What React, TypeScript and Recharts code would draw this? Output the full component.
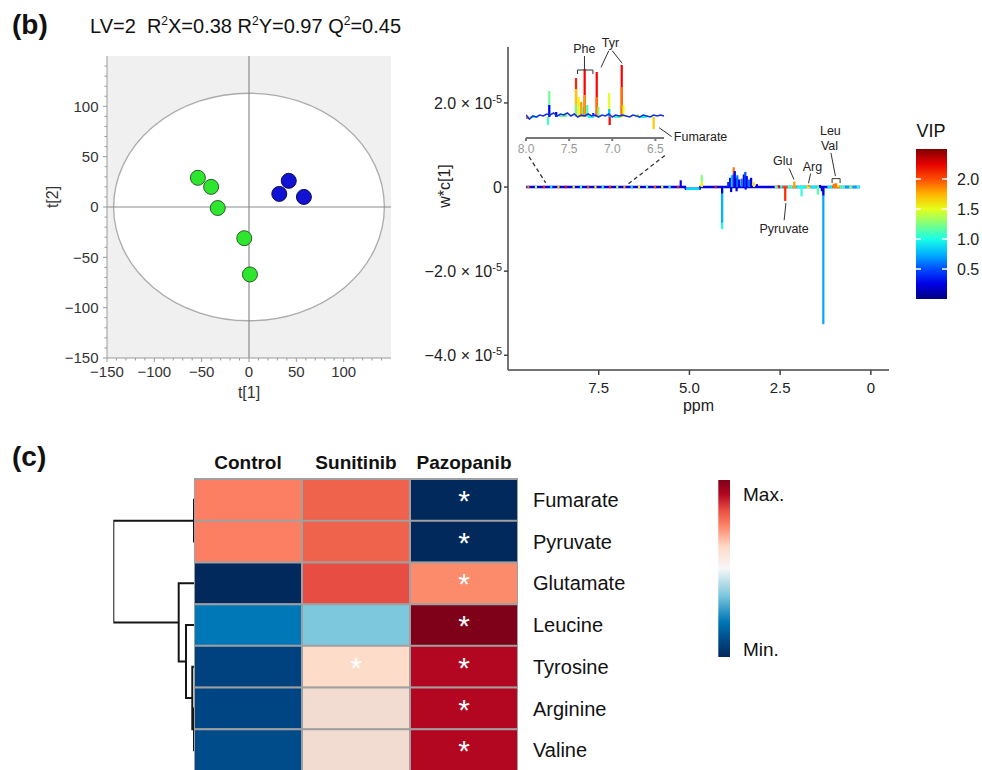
import React from 'react';
import {
  ScatterChart, Scatter, ComposedChart, Line, BarChart, Bar, Cell, LabelList,
  XAxis, YAxis, ReferenceArea, ReferenceLine, ReferenceDot,
} from 'recharts';

const FONT = '"Liberation Sans", Arial, Helvetica, sans-serif';
const MINUS = '\u2212';
const signed = (s: string) => s.replace('-', MINUS);

// ---------------- (b) PLS-DA score plot ----------------
const scoresGreen = [
  { t1: -54, t2: 29 }, { t1: -40, t2: 20 }, { t1: -33, t2: -1 }, { t1: -5, t2: -31 }, { t1: 1, t2: -67 },
];
const scoresBlue = [
  { t1: 32, t2: 13 }, { t1: 42, t2: 26 }, { t1: 58, t2: 10 },
];
const scoreDomain = [-150, 150];
const scoreTicks = [-150, -140, -130, -120, -110, -100, -90, -80, -70, -60, -50, -40, -30, -20, -10, 0,
  10, 20, 30, 40, 50, 60, 70, 80, 90, 100, 110, 120, 130, 140];
const scoreMajorTicks = [-150, -100, -50, 0, 50, 100];
const hotellingT1 = 143;
const hotellingT2 = 113;

// ---------------- (b) loading plot, w*c[1] in units of 1e-5 ----------------
const ppmTicks = [7.5, 5, 2.5, 0];
const loadingTicks = [-4, -2, 0, 2];
const VIP_MAX = 2.5;
const vipTicks = [0.5, 1, 1.5, 2];

const mainBaseline = [
  { ppm: 9.5, y: 0 }, { ppm: 5.12, y: 0 }, { ppm: 5.1, y: -0.04 }, { ppm: 4.72, y: -0.04 },
  { ppm: 4.7, y: 0 }, { ppm: 0.3, y: 0 },
];
// [fromPpm, toPpm, y, VIP]
const mainBaseSegs: [number, number, number, number][] = [
  [9.47, 9.41, 0, 1.9], [9.26, 9.2, 0, 1.4], [9.04, 8.98, 0, 2.1], [8.84, 8.78, 0, 0.9],
  [8.64, 8.58, 0, 1.7], [8.44, 8.38, 0, 2.2], [8.22, 8.16, 0, 1.5], [8.02, 7.96, 0, 1.1],
  [7.82, 7.76, 0, 2.0], [7.62, 7.56, 0, 1.6], [7.42, 7.36, 0, 1.0], [7.22, 7.16, 0, 2.1],
  [7.02, 6.96, 0, 1.4], [6.82, 6.76, 0, 1.8], [6.62, 6.56, 0, 0.9], [6.42, 6.36, 0, 1.6],
  [6.2, 6.14, 0, 1.2], [5.98, 5.92, 0, 2.0], [5.78, 5.72, 0, 1.5], [5.58, 5.52, 0, 1.0],
  [5.34, 5.28, 0, 2.1],
  [5.1, 4.72, -0.04, 0.85], [4.3, 4.25, 0, 2.1],
  [2.65, 2.55, 0, 1.2], [2.55, 2.5, 0, 2.2], [2.5, 2.43, 0, 1.0], [2.43, 2.3, 0, 2.0],
  [2.3, 2.15, 0, 1.1], [2.15, 2.05, 0, 1.8], [2.05, 1.78, 0, 0.95], [1.78, 1.66, 0, 1.5],
  [1.66, 1.5, 0, 0.9], [1.5, 1.42, 0, 1.2], [1.2, 1.06, 0, 0.9], [1.06, 0.85, 0, 1.85],
  [0.85, 0.7, 0, 1.05], [0.7, 0.6, 0, 0.7], [0.6, 0.5, 0, 1.2], [0.5, 0.4, 0, 0.7], [0.4, 0.3, 0, 1.0],
];
// [ppm, w*c (1e-5), VIP]
const mainPeaks: [number, number, number][] = [
  [5.24, 0.16, 0.3],
  [4.66, 0.29, 1.25], [4.66, 0.12, 1.6],
  [4.1, -1.0, 1.0], [4.1, -0.85, 0.75], [4.1, -0.15, 0.2],
  [3.93, 0.12, 0.4], [3.88, 0.22, 0.3], [3.83, 0.28, 0.8],
  [3.78, 0.47, 1.9], [3.78, 0.3, 0.5], [3.75, 0.38, 0.3], [3.72, 0.22, 0.2],
  [3.68, 0.28, 0.6], [3.63, 0.18, 0.3], [3.56, 0.2, 0.6], [3.5, 0.3, 0.3],
  [3.46, 0.36, 0.5], [3.42, 0.26, 0.25], [3.36, 0.18, 0.6], [3.3, 0.22, 0.25],
  [3.22, 0.12, 1.6], [3.14, 0.07, 0.3],
  [3.85, -0.12, 0.2], [3.7, -0.1, 0.2], [3.45, -0.06, 0.3],
  [2.54, 0.04, 2.2], [2.36, -0.33, 2.1], [2.11, 0.13, 1.8], [1.91, -0.22, 1.05],
  [1.71, 0.05, 1.8], [1.46, -0.18, 1.15], [1.4, 0.05, 0.3],
  [1.31, -3.26, 0.72], [1.31, -0.2, 0.25], [1.35, -0.1, 0.2],
  [1.02, 0.08, 1.9], [0.96, 0.09, 1.9], [0.9, 0.05, 1.6],
];
const mainLabels = [
  { text: 'Glu', ppm: 2.43, val: 0.63 },
  { text: 'Arg', ppm: 1.61, val: 0.49 },
  { text: 'Leu', ppm: 1.115, val: 1.34 },
  { text: 'Val', ppm: 1.14, val: 0.98 },
  { text: 'Pyruvate', ppm: 2.39, val: -0.99 },
];
const fumarateLabel = { text: 'Fumarate', ppm: 5.43, val: 1.19 };
// [ppm1, val1, ppm2, val2]
const mainLeaders: [number, number, number, number][] = [
  [2.25, 0.44, 2.12, 0.18],
  [1.66, 0.32, 1.72, 0.09],
  [1.1, 0.81, 0.976, 0.26],
  [2.34, -0.38, 2.39, -0.79],
  [5.835, 1.41, 5.49, 1.2],
  [1.068, 0.2, 0.847, 0.2], [1.068, 0.2, 1.068, 0.095], [0.847, 0.2, 0.847, 0.095],
];
const zoomGuides: [number, number, number, number][] = [
  [9.42, 0.72, 8.96, 0.1],
  [5.678, 0.75, 6.7, 0.064],
];

// ---------------- inset 8.0 - 6.5 ppm (relative units) ----------------
const insetTicks = [8, 7.5, 7, 6.5];
const insetBaseline = [
  { ppm: 8.0, v: 2 }, { ppm: 7.96, v: -2 }, { ppm: 7.92, v: 1 }, { ppm: 7.88, v: 0 }, { ppm: 7.84, v: 2 },
  { ppm: 7.8, v: 1 }, { ppm: 7.76, v: 3 }, { ppm: 7.72, v: 2 }, { ppm: 7.68, v: 4 }, { ppm: 7.64, v: 1 },
  { ppm: 7.6, v: 3 }, { ppm: 7.56, v: 2 }, { ppm: 7.52, v: 4 }, { ppm: 7.48, v: 1 }, { ppm: 7.44, v: 3 },
  { ppm: 7.4, v: 0 }, { ppm: 7.36, v: 2 }, { ppm: 7.32, v: 1 }, { ppm: 7.28, v: 3 }, { ppm: 7.24, v: 1 },
  { ppm: 7.2, v: 2 }, { ppm: 7.16, v: 0 }, { ppm: 7.12, v: 2 }, { ppm: 7.08, v: 1 }, { ppm: 7.04, v: 3 },
  { ppm: 7.0, v: 0 }, { ppm: 6.96, v: 2 }, { ppm: 6.92, v: 1 }, { ppm: 6.88, v: 2 }, { ppm: 6.84, v: 1 },
  { ppm: 6.8, v: 0 }, { ppm: 6.76, v: 2 }, { ppm: 6.72, v: 1 }, { ppm: 6.68, v: 0 }, { ppm: 6.64, v: 2 },
  { ppm: 6.6, v: 1 }, { ppm: 6.56, v: 0 }, { ppm: 6.52, v: 2 }, { ppm: 6.48, v: 1 }, { ppm: 6.44, v: 2 },
  { ppm: 6.4, v: 1 },
];
const insetBaseSegs: [number, number, number, number][] = [
  [8.0, 7.97, -1, 1.9], [7.95, 7.86, 0, 1.1], [7.62, 7.52, 1, 1.2], [7.28, 7.21, 0, 1.0],
  [6.98, 6.9, 0, 1.1], [6.7, 6.6, 0, 1.0],
];
const insetPeaks: [number, number, number][] = [
  [7.73, 26, 1.2], [7.73, 12, 0.3], [7.745, -8, 1.1],
  [7.42, 39, 2.1], [7.42, 28, 1.7], [7.42, 12, 1.2],
  [7.39, 20, 1.6], [7.36, 15, 1.8], [7.34, 10, 1.2],
  [7.32, 48, 2.2], [7.32, 22, 1.8], [7.29, 12, 1.1],
  [7.18, 45, 2.2], [7.18, 20, 1.9], [7.16, 10, 1.3],
  [7.035, 24, 1.5], [7.035, 8, 0.8], [7.03, -8, 2.2],
  [6.89, 52, 2.2], [6.89, 30, 1.9], [6.87, 12, 1.5],
  [6.52, -12, 1.7],
  [7.65, 5, 0.3], [7.55, 4, 1.2], [7.22, 4, 0.4], [6.7, 3, 1.4],
];
const insetLabels = [
  { text: 'Phe', ppm: 7.323, val: 68.3 },
  { text: 'Tyr', ppm: 7.02, val: 74.2 },
];
const insetLeaders: [number, number, number, number][] = [
  [7.322, 61, 7.322, 47], [7.403, 47, 7.224, 47], [7.403, 47, 7.403, 43], [7.224, 47, 7.224, 43],
  [7.04, 66.3, 7.13, 49.7], [7.0, 66.3, 6.885, 53.7],
];

// ---------------- (c) heatmap ----------------
const metabolites = ['Fumarate', 'Pyruvate', 'Glutamate', 'Leucine', 'Tyrosine', 'Arginine', 'Valine'];
const groups = ['Control', 'Sunitinib', 'Pazopanib'];
const controlLevel = [0.75, 0.75, 0.0, 0.2, 0.05, 0.07, 0.1];
const sunitinibLevel = [0.8, 0.8, 0.83, 0.35, 0.62, 0.58, 0.58];
const pazopanibLevel = [0.0, 0.0, 0.72, 1.0, 0.92, 0.92, 0.92];
const controlSig = [false, false, false, false, false, false, false];
const sunitinibSig = [false, false, false, false, true, false, false];
const pazopanibSig = [true, true, true, true, true, true, true];
// dendrogram merges: leaves 0..6, merged nodes 7..12
const dendroMerges = [
  { a: 0, b: 1, height: 0.3 },
  { a: 5, b: 6, height: 0.3 },
  { a: 4, b: 8, height: 2.0 },
  { a: 3, b: 9, height: 8.3 },
  { a: 2, b: 10, height: 15.6 },
  { a: 7, b: 11, height: 81 },
];

// ---------------- colour helpers ----------------
const clamp01 = (v: number) => Math.max(0, Math.min(1, v));
const toHex = (v: number) => Math.round(clamp01(v) * 255).toString(16).padStart(2, '0');
function vipColor(vip: number) {
  const t = clamp01(vip / VIP_MAX);
  const r = clamp01(1.5 - Math.abs(4 * t - 3));
  const g = clamp01(1.5 - Math.abs(4 * t - 2));
  const b = clamp01(1.5 - Math.abs(4 * t - 1));
  return '#' + toHex(r) + toHex(g) + toHex(b);
}
const heatPalette: [number, string][] = [
  [0, '#02295c'], [0.05, '#00417f'], [0.1, '#004b8a'], [0.2, '#0077b6'], [0.35, '#7ec8de'],
  [0.5, '#f7f7f7'], [0.58, '#f2dcd2'], [0.62, '#fddcc9'], [0.72, '#fc8b6c'], [0.75, '#fc7f63'],
  [0.8, '#ef624c'], [0.83, '#e84d43'], [0.92, '#b30620'], [1, '#7f0019'],
];
function hexToRgb(h: string) {
  return [parseInt(h.slice(1, 3), 16), parseInt(h.slice(3, 5), 16), parseInt(h.slice(5, 7), 16)];
}
function heatColor(v: number) {
  for (let i = 0; i < heatPalette.length - 1; i++) {
    const [v0, c0] = heatPalette[i];
    const [v1, c1] = heatPalette[i + 1];
    if (v <= v1) {
      const f = v1 === v0 ? 0 : clamp01((v - v0) / (v1 - v0));
      const a = hexToRgb(c0);
      const b = hexToRgb(c1);
      return '#' + a.map((x, k) => toHex((x + (b[k] - x) * f) / 255)).join('');
    }
  }
  return heatPalette[heatPalette.length - 1][1];
}

// ---------------- components ----------------
function ScoreXTick(props: any) {
  const { x, y, payload } = props;
  const v = payload.value;
  const major = scoreMajorTicks.includes(v);
  return (
    <g>
      <line x1={x} x2={x} y1={y} y2={y + (major ? 4 : 2.5)} stroke="#9a9a9a" strokeWidth={1} />
      {major && (
        <text x={x} y={y + 8.5} dy="0.71em" textAnchor="middle" fontSize={15} fill="#333">
          {signed(String(v))}
        </text>
      )}
    </g>
  );
}
function ScoreYTick(props: any) {
  const { x, y, payload } = props;
  const v = payload.value;
  const major = scoreMajorTicks.includes(v);
  return (
    <g>
      <line x1={x - (major ? 4 : 2.5)} x2={x} y1={y} y2={y} stroke="#9a9a9a" strokeWidth={1} />
      {major && (
        <text x={x - 8.5} y={y} dy="0.355em" textAnchor="end" fontSize={15} fill="#333">
          {signed(String(v))}
        </text>
      )}
    </g>
  );
}

function ScorePlot() {
  const dot = (fill: string, stroke: string) => (p: any) => (
    <circle cx={p.cx} cy={p.cy} r={7.5} fill={fill} stroke={stroke} strokeWidth={1} />
  );
  return (
    <ScatterChart width={360} height={370} margin={{ top: 16, right: 9, bottom: 0, left: 0 }}>
      <XAxis type="number" dataKey="t1" domain={scoreDomain} allowDataOverflow ticks={scoreTicks} interval={0}
        tickSize={0} tickMargin={0} tick={(p: any) => <ScoreXTick {...p} />} stroke="#9a9a9a" height={52}
        label={{ value: 't[1]', position: 'insideBottom', offset: 12.5, fontSize: 16, fill: '#333' }} />
      <YAxis type="number" dataKey="t2" domain={scoreDomain} allowDataOverflow ticks={scoreTicks} interval={0}
        tickSize={0} tickMargin={0} tick={(p: any) => <ScoreYTick {...p} />} stroke="#9a9a9a" width={67} />
      <ReferenceArea x1={-150} x2={150} y1={-150} y2={150} fill="#f0f0f0" fillOpacity={1} stroke="none" ifOverflow="visible" />
      <ReferenceArea x1={-hotellingT1} x2={hotellingT1} y1={-hotellingT2} y2={hotellingT2} ifOverflow="visible"
        shape={(p: any) => (
          <ellipse cx={p.x + p.width / 2} cy={p.y + p.height / 2} rx={Math.abs(p.width) / 2} ry={Math.abs(p.height) / 2}
            fill="#ffffff" stroke="#ababab" strokeWidth={1.3} />
        )} />
      <ReferenceLine x={0} stroke="#8c8c8c" strokeWidth={1.2} />
      <ReferenceLine y={0} stroke="#8c8c8c" strokeWidth={1.2} />
      <Scatter data={scoresGreen} shape={dot('#2ee62e', '#2d5d2d')} isAnimationActive={false} />
      <Scatter data={scoresBlue} shape={dot('#1212d4', '#101050')} isAnimationActive={false} />
    </ScatterChart>
  );
}

function LoadingYTick(props: any) {
  const { x, y, payload } = props;
  const v = payload.value;
  if (v === 0) {
    return <text x={x} y={y} dy="0.355em" textAnchor="end" fontSize={16} fill="#222">0</text>;
  }
  return (
    <text x={x} y={y} dy="0.355em" textAnchor="end" fontSize={16} fill="#222">
      {signed(v.toFixed(1))} × 10<tspan dy={-6} fontSize={11}>-5</tspan>
    </text>
  );
}

const seg = (key: string, s: [number, number, number, number], stroke: string, width: number, dash?: string) => (
  <ReferenceLine key={key} segment={[{ x: s[0], y: s[1] }, { x: s[2], y: s[3] }]} stroke={stroke}
    strokeWidth={width} strokeDasharray={dash} ifOverflow="visible" />
);
const textAt = (key: string, x: number, y: number, text: string, position: any = 'center') => (
  <ReferenceDot key={key} x={x} y={y} r={0} fill="none" stroke="none" ifOverflow="visible"
    label={{ value: text, position, offset: 0, fontSize: 12.5, fill: '#222' }} />
);

function LoadingPlot() {
  return (
    <ComposedChart width={469} height={400} data={mainBaseline} margin={{ top: 17, right: 0, bottom: 0, left: 0 }}>
      <XAxis type="number" dataKey="ppm" domain={[-0.5, 10]} reversed allowDataOverflow ticks={ppmTicks} interval={0}
        tickFormatter={(v: number) => (v === 0 ? '0' : v.toFixed(1))} height={60} stroke="#444" strokeWidth={1.5}
        tickSize={5} tickMargin={7} tick={{ fontSize: 15, fill: '#222' }}
        label={{ value: 'ppm', position: 'insideBottom', offset: 19, fontSize: 16, fill: '#222' }} />
      <YAxis type="number" domain={[-4.35, 3.33]} allowDataOverflow ticks={loadingTicks} interval={0} width={88}
        stroke="#444" strokeWidth={1.5} tickSize={4} tickMargin={2} tick={(p: any) => <LoadingYTick {...p} />} />
      <Line type="linear" dataKey="y" stroke={vipColor(0.25)} strokeWidth={2.5} dot={false} isAnimationActive={false} />
      {mainBaseSegs.map((s, i) => seg('b' + i, [s[0], s[2], s[1], s[2]], vipColor(s[3]), 2.5))}
      {mainPeaks.map((p, i) => seg('p' + i, [p[0], 0, p[0], p[1]], vipColor(p[2]), 2.2))}
      {zoomGuides.map((g, i) => seg('z' + i, g, '#333', 1.3, '4 3'))}
      {mainLeaders.map((g, i) => seg('l' + i, g, '#333', 1))}
      {mainLabels.map((l, i) => textAt('t' + i, l.ppm, l.val, l.text))}
      {textAt('fum', fumarateLabel.ppm, fumarateLabel.val, fumarateLabel.text, 'right')}
    </ComposedChart>
  );
}

function InsetPlot() {
  return (
    <ComposedChart width={166} height={128} data={insetBaseline} margin={{ top: 0, right: 12, bottom: 0, left: 16 }}>
      <XAxis type="number" dataKey="ppm" domain={[6.4, 8]} reversed allowDataOverflow ticks={insetTicks} interval={0}
        tickFormatter={(v: number) => v.toFixed(1)} height={20} stroke="#777" strokeWidth={2}
        tickSize={3} tickMargin={3} tick={{ fontSize: 12, fill: '#999' }} />
      <YAxis type="number" domain={[-21, 87]} allowDataOverflow hide />
      {insetPeaks.map((p, i) => seg('ip' + i, [p[0], 0, p[0], p[1]], vipColor(p[2]), 2.2))}
      {insetBaseSegs.map((s, i) => seg('ib' + i, [s[0], s[2], s[1], s[2]], vipColor(s[3]), 2))}
      <Line type="linear" dataKey="v" stroke="#1530e0" strokeWidth={1.6} dot={false} isAnimationActive={false} />
      {insetLeaders.map((g, i) => seg('il' + i, g, '#333', 1))}
      {insetLabels.map((l, i) => textAt('it' + i, l.ppm, l.val, l.text))}
    </ComposedChart>
  );
}

function VipColorbar() {
  const stops = [2.5, 2.25, 2, 1.75, 1.5, 1.25, 1, 0.75, 0.5, 0.25, 0];
  return (
    <BarChart width={70} height={170} data={[{ name: 'VIP', v: VIP_MAX }]} margin={{ top: 9, right: 0, bottom: 11, left: 0 }}
      barCategoryGap={0}>
      <defs>
        <linearGradient id="vipGrad" x1="0" y1="0" x2="0" y2="1">
          {stops.map((s, i) => <stop key={i} offset={`${(1 - s / VIP_MAX) * 100}%`} stopColor={vipColor(s)} />)}
        </linearGradient>
      </defs>
      <XAxis dataKey="name" hide />
      <YAxis orientation="right" domain={[0, VIP_MAX]} allowDataOverflow ticks={vipTicks} interval={0} width={39}
        axisLine={false} tickLine={false} tickSize={0} tickMargin={10} tick={{ fontSize: 16, fill: '#222' }}
        tickFormatter={(v: number) => v.toFixed(1)} />
      <Bar dataKey="v" fill="url(#vipGrad)" isAnimationActive={false} />
      {vipTicks.map((t) => (
        <ReferenceLine key={t} y={t} stroke="#ffffff" strokeWidth={1.5} strokeDasharray="5 21 5" />
      ))}
    </BarChart>
  );
}

function Dendrogram() {
  const nodes: { row: number; h: number }[] = metabolites.map((_, i) => ({ row: i, h: 0 }));
  const links: { h: number; row: number }[][] = [];
  dendroMerges.forEach((m) => {
    const A = nodes[m.a];
    const B = nodes[m.b];
    links.push([{ h: A.h, row: A.row }, { h: m.height, row: A.row }, { h: m.height, row: B.row }, { h: B.h, row: B.row }]);
    nodes.push({ row: (A.row + B.row) / 2, h: m.height });
  });
  return (
    <ComposedChart width={90} height={292} margin={{ top: 0, right: 3.7, bottom: 0, left: 5.3 }}>
      <XAxis type="number" dataKey="h" domain={[0, 81]} reversed allowDataOverflow hide />
      <YAxis type="number" domain={[-0.5, 6.5]} reversed allowDataOverflow hide />
      {links.map((d, i) => (
        <Line key={i} data={d} dataKey="row" type="linear" stroke="#151515" strokeWidth={2} dot={false}
          isAnimationActive={false} />
      ))}
    </ComposedChart>
  );
}

function Heatmap() {
  const rows = metabolites.map((name) => ({ name, control: 1, sunitinib: 1, pazopanib: 1 }));
  const star = (sig: boolean[], color: string) => (p: any) => {
    if (!sig[p.index]) return null;
    return (
      <text x={p.x + p.width / 2} y={p.y + p.height / 2} dy={11} textAnchor="middle" fontSize={30} fill={color}>*</text>
    );
  };
  const series: [string, number[], boolean[]][] = [
    ['control', controlLevel, controlSig],
    ['sunitinib', sunitinibLevel, sunitinibSig],
    ['pazopanib', pazopanibLevel, pazopanibSig],
  ];
  return (
    <BarChart layout="vertical" width={444} height={337} data={rows} margin={{ top: 0, right: 0, bottom: 0, left: 0 }}
      barCategoryGap={0}>
      <XAxis type="number" orientation="top" domain={[0, 3]} allowDataOverflow ticks={[0.5, 1.5, 2.5]} interval={0}
        tickFormatter={(v: number) => groups[Math.floor(v)]} height={45} axisLine={false} tickLine={false}
        tickSize={0} tickMargin={10} tick={{ fontSize: 19, fontWeight: 'bold', fill: '#111' }} />
      <YAxis type="category" dataKey="name" orientation="right" width={120} axisLine={false} tickLine={false}
        tickSize={0} tickMargin={15} interval={0} tick={{ fontSize: 20, fill: '#111' }} />
      {series.map(([key, levels, sig]) => (
        <Bar key={key} dataKey={key} stackId="h" stroke="#a0a0a0" strokeWidth={2} isAnimationActive={false}>
          {levels.map((v, i) => <Cell key={i} fill={heatColor(v)} />)}
          <LabelList dataKey={key} content={star(sig, '#ffffff')} />
        </Bar>
      ))}
    </BarChart>
  );
}

export default function App() {
  const legendStops = [1, 0.92, 0.83, 0.75, 0.62, 0.5, 0.35, 0.2, 0.1, 0];
  return (
    <div style={{ position: 'absolute', left: 0, top: 0, width: 982, height: 770, overflow: 'hidden', background: '#fff', fontFamily: FONT }}>
      <svg width={982} height={770} style={{ position: 'absolute', left: 0, top: 0 }}>
        <defs>
          <linearGradient id="heatGrad" x1="0" y1="0" x2="0" y2="1">
            {legendStops.map((s, i) => <stop key={i} offset={`${(1 - s) * 100}%`} stopColor={heatColor(s)} />)}
          </linearGradient>
        </defs>
        <text x={12} y={34} fontSize={28} fontWeight="bold" fill="#111">(b)</text>
        <text x={90} y={33} fontSize={20} fill="#111" style={{ whiteSpace: 'pre' }}>
          {'LV=2  R'}<tspan dy={-8} fontSize={12}>2</tspan><tspan dy={8}>{'X=0.38 R'}</tspan>
          <tspan dy={-8} fontSize={12}>2</tspan><tspan dy={8}>{'Y=0.97 Q'}</tspan>
          <tspan dy={-8} fontSize={12}>2</tspan><tspan dy={8}>{'=0.45'}</tspan>
        </text>
        <text x={52.7} y={197} dy="0.355em" fontSize={16} fill="#333" textAnchor="middle" transform="rotate(-90 52.7 197)">t[2]</text>
        <text x={444} y={186} dy="0.355em" fontSize={16} fill="#222" textAnchor="middle" transform="rotate(-90 444 186)">w*c[1]</text>
        <text x={931} y={137} fontSize={18} fill="#111" textAnchor="middle">VIP</text>
        <text x={12} y={466} fontSize={28} fontWeight="bold" fill="#111">(c)</text>
        <rect x={718.3} y={480} width={11.7} height={177} fill="url(#heatGrad)" />
        <text x={743} y={501} fontSize={19} fill="#111">Max.</text>
        <text x={743} y={656} fontSize={19} fill="#111">Min.</text>
      </svg>
      <div style={{ position: 'absolute', left: 40, top: 40 }}><ScorePlot /></div>
      <div style={{ position: 'absolute', left: 420, top: 30 }}><LoadingPlot /></div>
      <div style={{ position: 'absolute', left: 510, top: 30 }}><InsetPlot /></div>
      <div style={{ position: 'absolute', left: 916, top: 140 }}><VipColorbar /></div>
      <div style={{ position: 'absolute', left: 108, top: 479 }}><Dendrogram /></div>
      <div style={{ position: 'absolute', left: 194, top: 434 }}><Heatmap /></div>
    </div>
  );
}
